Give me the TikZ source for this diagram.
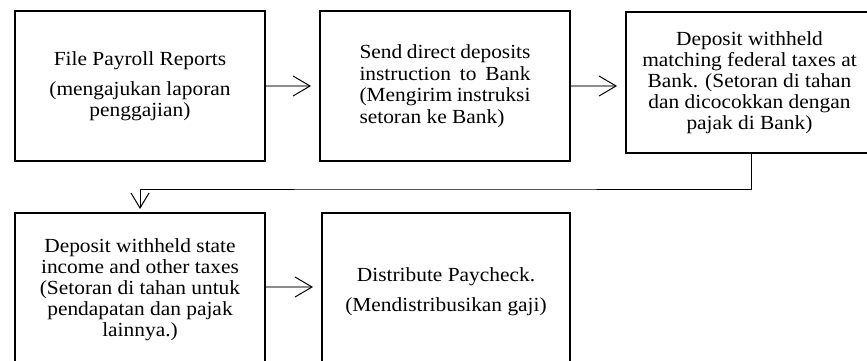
\documentclass[tikz,border=0pt]{standalone}
\usepackage{fontspec}
\setmainfont{Liberation Serif}[FakeStretch=1.07]
\usetikzlibrary{arrows.meta}
\tikzset{
  box/.style={draw=black, line width=2pt, inner sep=0pt, align=center,
    font=\fontsize{20}{21}\selectfont},
  flow/.style={draw=black!45, line width=1.4pt,
    -{Straight Barb[length=17pt,width=20pt,line width=1pt,color=black]}},
  drop/.style={draw=black, line width=1pt,
    -{Straight Barb[length=15pt,width=18pt,line width=1pt]}}
}
\newcommand{\jl}[1]{\hbox to 171pt{#1}}
\begin{document}
\begin{tikzpicture}[x=1pt,y=-1pt]
\useasboundingbox (0,0) rectangle (867,361);
\node[box, minimum width=250pt, minimum height=150pt] (b1) at (140,86)
  {File Payroll Reports\\[9pt](mengajukan laporan\\penggajian)};
\node[box, minimum width=250pt, minimum height=150pt] (b2) at (445,86)
  {\begin{minipage}{171pt}\fontsize{20}{21.5}\selectfont
   \jl{Send\hfil direct\hfil deposits}
   \jl{instruction\hfil to\hfil Bank}
   \jl{(Mengirim\hfil instruksi}
   \jl{setoran ke Bank)\hfil}\end{minipage}};
\node[box, minimum width=247pt, minimum height=141pt] (b3) at (749.5,82.5)
  {Deposit withheld\\matching federal taxes at\\Bank. (Setoran di tahan\\dan dicocokkan dengan\\pajak di Bank)};
\node[box, minimum width=250pt, minimum height=154pt] (b4) at (140,290)
  {Deposit withheld state\\income and other taxes\\(Setoran di tahan untuk\\pendapatan dan pajak\\lainnya.)};
\node[box, minimum width=248pt, minimum height=158pt] (b5) at (446,292)
  {Distribute Paycheck.\\[9pt](Mendistribusikan gaji)};
\coordinate (turn) at (445,189);
\draw[flow, shorten >=8pt] (b1.east) -- (b2.west);
\draw[flow, shorten >=8pt] (b2.east) -- (b3.west |- b2.east);
\draw[drop, shorten >=3pt] (b3.south -| 751,0) |- (turn) -| (b4.north);
\draw[flow, shorten >=8pt] (b4.east |- 0,287) -- (b5.west |- 0,287);
\end{tikzpicture}
\end{document}
